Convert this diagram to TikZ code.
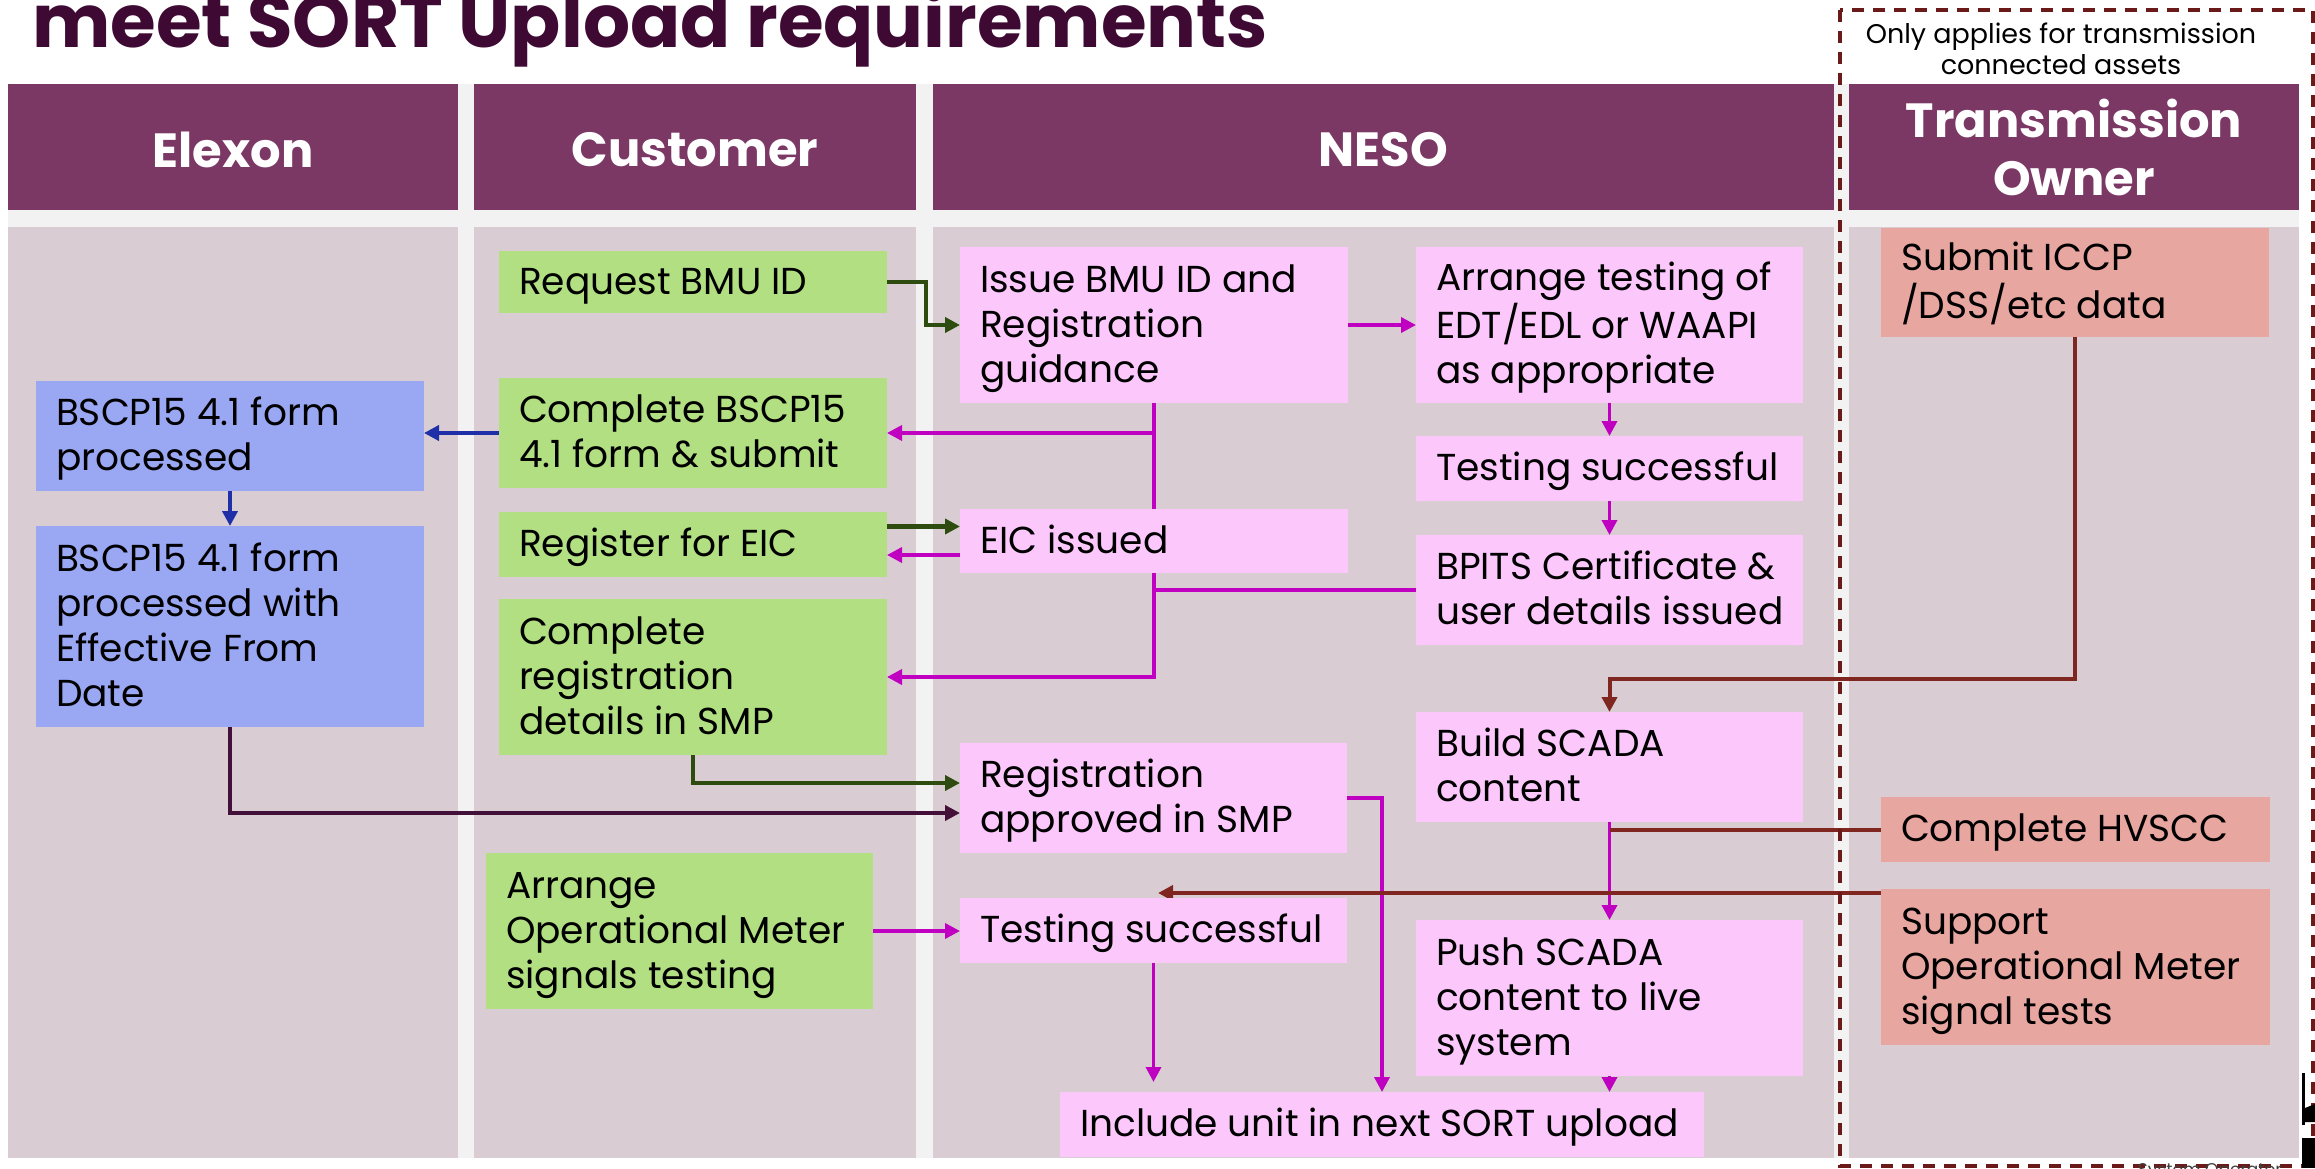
\documentclass[tikz,border=0pt]{standalone}
\usepackage{fontspec}
\setmainfont{Poppins}
\usetikzlibrary{arrows.meta}
\pgfdeclarelayer{back}
\pgfdeclarelayer{wires}
\pgfsetlayers{back,wires,main}

\definecolor{hdrpurple}{HTML}{7B3864}
\definecolor{lanegrey}{HTML}{D9CDD3}
\definecolor{gapgrey}{HTML}{F2F2F2}
\definecolor{custgreen}{HTML}{B1DF82}
\definecolor{nesopink}{HTML}{FCC8FC}
\definecolor{elxblue}{HTML}{9AA7F2}
\definecolor{tosalmon}{HTML}{E8A6A1}
\definecolor{wiremag}{HTML}{C000C0}
\definecolor{wiregreen}{HTML}{2E4B10}
\definecolor{wirered}{HTML}{7F2621}
\definecolor{wirenavy}{HTML}{1F2FA8}
\definecolor{wireplum}{HTML}{421038}
\definecolor{titlecol}{HTML}{3E0A33}
\definecolor{dashred}{HTML}{6B1A1A}

% process box: name, style, x1, y1, x2, y2, lines of text
% (extra height above the text block drops it slightly below centre)
\newcommand\flowbox[7]{%
  \pgfmathsetmacro\fbw{#5-#3}%
  \pgfmathsetmacro\fbh{#6-#4}%
  \node[#2, minimum width=\fbw pt, minimum height=\fbh pt] (#1)
    at ({(#3+#5)/2},{(#4+#6)/2})
    {\makebox[\fbw pt][l]{\hspace{20pt}\raisebox{0pt}[\dimexpr\height+6pt\relax][\depth]{\begin{tabular}{@{}l@{}}#7\end{tabular}}}};}

% lane header: name, x1, x2, text centre y, text
\newcommand\lanehead[5]{%
  \pgfmathsetmacro\fbw{#3-#2}%
  \fill[hdrpurple] (#2,84) rectangle (#3,210);
  \fill[lanegrey] (#2,227) rectangle (#3,1158);
  \node[lanetitle, text width=\fbw pt] (#1) at ({(#2+#3)/2},#4) {#5};}

\begin{document}
\begin{tikzpicture}[x=1pt,y=-1pt,
  boxbase/.style={rectangle, inner sep=0pt, outer sep=0pt,
    font=\fontsize{37.5}{45}\selectfont, text=black},
  custbox/.style={boxbase, fill=custgreen},
  nesobox/.style={boxbase, fill=nesopink},
  elxbox/.style={boxbase, fill=elxblue},
  tobox/.style={boxbase, fill=tosalmon},
  lanetitle/.style={align=center, text=white,
    font=\bfseries\fontsize{48}{58}\selectfont},
  tip/.style={-{Triangle[length=15pt,width=15pt]}},
  magwire/.style={draw=wiremag, line width=3.5pt},
  grnwire/.style={draw=wiregreen, line width=4.5pt},
  redwire/.style={draw=wirered, line width=4pt},
  navywire/.style={draw=wirenavy, line width=4pt},
  plumwire/.style={draw=wireplum, line width=4pt},
]
\useasboundingbox (0,0) rectangle (2315,1168);

% lanes
\begin{pgfonlayer}{back}
  \fill[white] (0,0) rectangle (2315,1168);
  \fill[gapgrey] (8,84) rectangle (2299,1158);
  \lanehead{hElexon}{8}{458}{150}{Elexon}
  \lanehead{hCustomer}{474}{916}{150}{Customer}
  \lanehead{hNESO}{933}{1834}{150}{NESO}
  \lanehead{hTO}{1849}{2299}{147}{Transmission\\Owner}
\end{pgfonlayer}

% heading
\node[anchor=base west, inner sep=0pt, text=titlecol,
  font=\bfseries\fontsize{74}{80}\selectfont] (heading) at (32,47)
  {meet SORT Upload requirements};

% transmission-only region
\draw[dashred, line width=3.5pt, dash pattern=on 12pt off 9pt]
  (1840,10) rectangle (2313,1166);
\node[align=center, inner sep=0pt, font=\fontsize{27}{31}\selectfont]
  (tonote) at (2061,49) {Only applies for transmission\\connected assets};

% Elexon
\flowbox{elxA}{elxbox}{36}{381}{424}{491}{BSCP15 4.1 form\\processed}
\flowbox{elxB}{elxbox}{36}{526}{424}{727}{BSCP15 4.1 form\\processed with\\Effective From\\Date}

% Customer
\flowbox{req}{custbox}{499}{251}{887}{313}{Request BMU ID}
\flowbox{cbscp}{custbox}{499}{378}{887}{488}{Complete BSCP15\\4.1 form \& submit}
\flowbox{reg}{custbox}{499}{512}{887}{577}{Register for EIC}
\flowbox{creg}{custbox}{499}{599}{887}{755}{Complete\\registration\\details in SMP}
\flowbox{aom}{custbox}{486}{853}{873}{1009}{Arrange\\Operational Meter\\signals testing}

% NESO
\flowbox{issue}{nesobox}{960}{247}{1348}{403}{Issue BMU ID and\\Registration\\guidance}
\flowbox{arrt}{nesobox}{1416}{247}{1803}{403}{Arrange testing of\\EDT/EDL or WAAPI\\as appropriate}
\flowbox{tsr}{nesobox}{1416}{436}{1803}{501}{Testing successful}
\flowbox{eic}{nesobox}{960}{509}{1348}{573}{EIC issued}
\flowbox{bpits}{nesobox}{1416}{535}{1803}{645}{BPITS Certificate \&\\user details issued}
\flowbox{build}{nesobox}{1416}{712}{1803}{822}{Build SCADA\\content}
\flowbox{rapp}{nesobox}{960}{743}{1347}{853}{Registration\\approved in SMP}
\flowbox{tsl}{nesobox}{960}{898}{1347}{963}{Testing successful}
\flowbox{push}{nesobox}{1416}{920}{1803}{1076}{Push SCADA\\content to live\\system}
\flowbox{incl}{nesobox}{1060}{1092}{1704}{1157}{Include unit in next SORT upload}

% Transmission Owner
\flowbox{iccp}{tobox}{1881}{228}{2269}{337}{Submit ICCP\\/DSS/etc data}
\flowbox{hvscc}{tobox}{1881}{797}{2270}{862}{Complete HVSCC}
\flowbox{som}{tobox}{1881}{889}{2270}{1045}{Support\\Operational Meter\\signal tests}

% connectors
\begin{pgfonlayer}{wires}
  % Elexon
  \draw[navywire, tip] (cbscp.west) -- (cbscp.west -| elxA.east);
  \draw[navywire, tip] (elxA) -- (elxB);
  \draw[plumwire, tip] (elxB.south) |- ([yshift=-15pt]rapp.west);
  % customer to NESO
  \draw[grnwire, tip] (req.east) -- ++(39,0) |- (issue.west);
  \draw[grnwire, tip] ([yshift=18pt]reg.east) -- ([yshift=18pt]reg.east -| eic.west);
  \draw[grnwire, tip] (creg.south) |- ([yshift=15pt]rapp.west);
  \draw[magwire, tip] (aom.east) -- (aom.east -| tsl.west);
  % NESO
  \draw[magwire, tip] (issue.east) -- (arrt.west);
  \draw[magwire] (issue.south) -- (eic.north);
  \draw[magwire, tip] (issue.south |- cbscp.east) -- (cbscp.east);
  \draw[magwire, tip] ([yshift=-14pt]eic.west) -- ([yshift=-14pt]eic.west -| reg.east);
  \draw[magwire] (eic.south) -- (eic.south |- bpits.west);
  \draw[magwire, tip] (bpits.west) -| (eic.south |- creg.east) -- (creg.east);
  \draw[magwire, tip] (arrt) -- (tsr);
  \draw[magwire, tip] (tsr) -- (bpits);
  \draw[magwire, tip] (build) -- (push);
  \draw[magwire, tip] (rapp.east) -- ++(35,0) coordinate (rappturn)
    -- (rappturn |- incl.north);
  \draw[magwire, tip] (tsl.south) -- ([yshift=10pt]tsl.south |- incl.north);
  \draw[magwire, tip] (push) -- (push.south |- incl.north);
  % Transmission Owner
  \draw[redwire, tip] (iccp.south) |- ([yshift=33pt]build.north) -- (build.north);
  \draw[redwire] (hvscc.west) -- (hvscc.west -| build.south);
  \coordinate (somtip) at (1158,893);
  \draw[redwire, tip] ([yshift=-4pt]som.north west) -- (somtip);
\end{pgfonlayer}

% corner mark
\fill[black] (2302,1073) rectangle (2305,1125);
\fill[black] (2305,1108) -- (2315,1104) -- (2315,1122) -- (2305,1122) -- cycle;
\fill[black] (2302,1138) rectangle (2315,1168);
\node[anchor=base east, inner sep=0pt, text=black!75,
  font=\fontsize{17}{20}\selectfont] (markname) at (2282,1175) {System Operator};
\end{tikzpicture}
\end{document}
